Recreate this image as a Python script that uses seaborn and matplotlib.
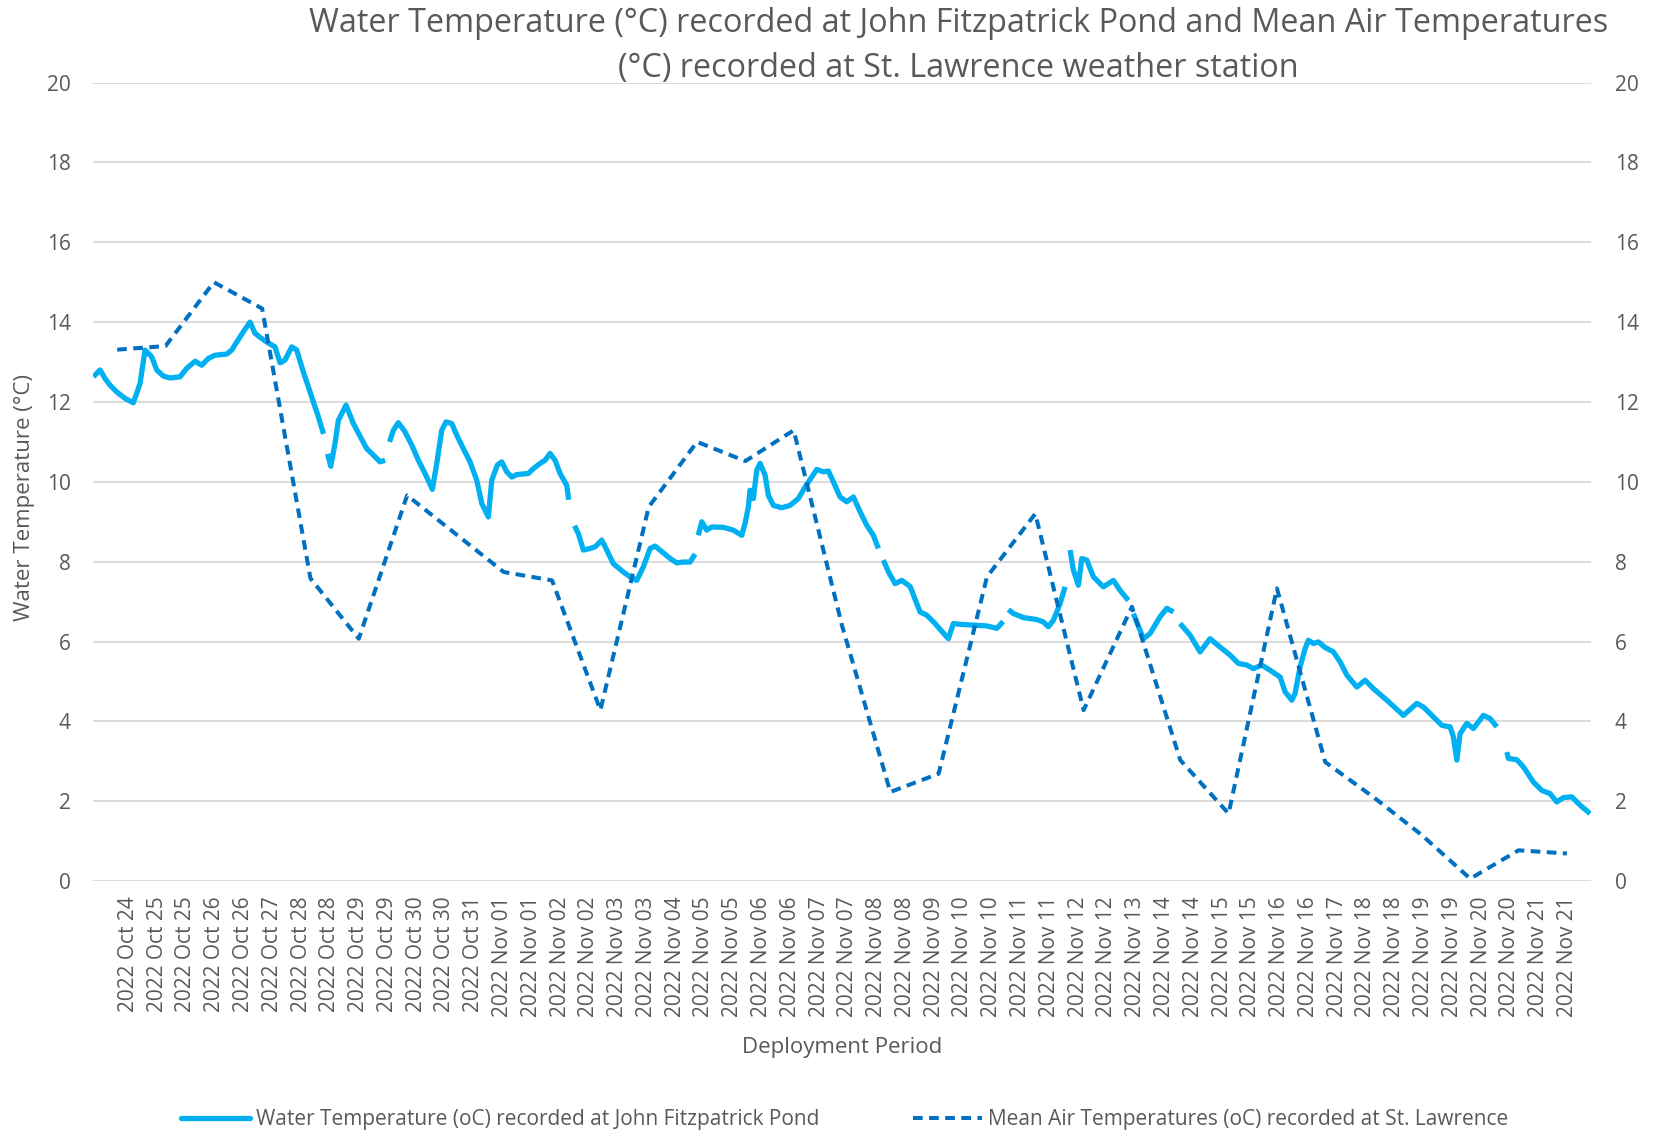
import numpy as np
import pandas as pd
import matplotlib
matplotlib.use("Agg")
import matplotlib.pyplot as plt
import seaborn as sns
from matplotlib.lines import Line2D

# x-axis labels (one per category tick)
tick_labels = (
    ["2022 Oct " + d for d in ["24", "25", "25", "26", "26", "27", "28", "28", "29", "29", "30", "30", "31"]]
    + ["2022 Nov " + d for d in ["01", "01", "02", "02", "03", "03", "04", "05", "05", "06", "06", "07", "07",
                                 "08", "08", "09", "10", "10", "11", "11", "12", "12", "13", "14", "14",
                                 "15", "15", "16", "16", "17", "18", "18", "19", "19", "20", "20", "21", "21"]]
)

# water temperature, x in tick units, NaN = logger gap
water_x = [
    -1.216, -0.983, -0.810, -0.636, -0.403, -0.115, 0.174, 0.407, 0.580, 0.813, 0.987, 1.216, 1.449,
    1.796, 2.029, 2.318, 2.550, 2.780, 3.012, 3.419, 3.593, 3.766, 3.996, 4.229, 4.402, 4.576, 4.809,
    5.097, 5.271, 5.445, 5.677, 5.851, 6.081, 6.254, 6.428, 6.602, 6.782, np.nan,
    6.921, 7.033, 7.182, 7.297, 7.564, 7.818, 8.051, 8.283, 8.513, 8.746, 8.919, np.nan,
    9.076, 9.208, 9.381, 9.614, 9.847, 10.076, 10.309, 10.563, 10.716, 10.889, 11.039, 11.237, 11.411,
    11.640, 11.873, 12.105, 12.279, 12.509, 12.627, 12.821, 12.974, 13.148, 13.322, 13.495, 13.898,
    14.072, 14.305, 14.479, 14.652, 14.826, 15.000, 15.233, 15.300, np.nan,
    15.504, 15.636, 15.810, 16.042, 16.216, 16.449, 16.622, 16.852, 17.199, 17.432, 17.665, 17.894,
    18.127, 18.301, 18.589, 18.822, 19.055, 19.284, 19.517, 19.691, np.nan,
    19.805, 19.923, 20.097, 20.271, 20.674, 21.021, 21.313, 21.428, 21.543, 21.601, 21.716, 21.834,
    21.949, 22.123, 22.238, 22.411, 22.703, 22.991, 23.280, 23.513, 23.745, 23.919, 24.148, 24.322,
    24.496, 24.728, 24.961, 25.191, 25.424, 25.656, 25.886, 26.060, np.nan,
    26.233, 26.407, 26.640, 26.872, 27.161, 27.508, 27.741, 28.030, 28.318, 28.492, 28.666, 28.899,
    29.361, 29.826, 30.174, 30.393, np.nan,
    30.577, 30.751, 31.098, 31.563, 31.793, 31.966, 32.140, 32.373, 32.547, np.nan,
    32.720, 32.835, 33.009, 33.127, 33.301, 33.530, 33.877, 34.225, 34.458, 34.746, np.nan,
    34.920, 35.267, 35.500, 35.847, 36.080, 36.310, np.nan,
    36.542, 36.890, 37.237, 37.585, 37.932, 38.280, 38.568, 38.860, 39.089, 39.381, 39.669, 40.017,
    40.191, 40.423, 40.538, 40.711, 40.885, 41.000, 41.174, 41.348, 41.580, 41.869, 42.102, 42.335,
    42.682, 42.971, 43.259, 43.725, 44.301, 44.767, 44.996, 45.344, 45.636, 45.924, 46.039, 46.157,
    46.271, 46.504, 46.734, 47.081, 47.314, 47.546, np.nan,
    47.894, 47.950, 48.242, 48.470, 48.818, 49.109, 49.397, 49.630, 49.860, 50.151, 50.442, 50.789,
]
water_t = [
    12.63, 12.80, 12.59, 12.42, 12.25, 12.09, 11.98, 12.46, 13.30, 13.13, 12.80, 12.65, 12.60,
    12.63, 12.84, 13.02, 12.92, 13.09, 13.17, 13.20, 13.30, 13.50, 13.76, 14.00, 13.72, 13.62, 13.50,
    13.38, 12.98, 13.05, 13.38, 13.30, 12.75, 12.38, 12.00, 11.63, 11.20, np.nan,
    10.70, 10.39, 10.96, 11.54, 11.92, 11.46, 11.14, 10.83, 10.67, 10.50, 10.54, np.nan,
    11.00, 11.29, 11.48, 11.25, 10.92, 10.54, 10.21, 9.81, 10.46, 11.29, 11.50, 11.46, 11.17,
    10.83, 10.50, 10.04, 9.46, 9.12, 10.04, 10.42, 10.50, 10.25, 10.12, 10.18, 10.21,
    10.33, 10.46, 10.54, 10.71, 10.54, 10.21, 9.91, 9.55, np.nan,
    8.90, 8.70, 8.29, 8.33, 8.37, 8.54, 8.29, 7.95, 7.74, 7.62, 7.53, 7.87,
    8.33, 8.39, 8.22, 8.08, 7.97, 7.99, 7.99, 8.19, np.nan,
    8.66, 9.00, 8.79, 8.87, 8.86, 8.79, 8.66, 8.96, 9.37, 9.79, 9.58, 10.29,
    10.46, 10.17, 9.66, 9.41, 9.35, 9.41, 9.58, 9.87, 10.12, 10.31, 10.25, 10.27,
    10.00, 9.62, 9.50, 9.62, 9.25, 8.91, 8.66, 8.33, np.nan,
    8.04, 7.75, 7.45, 7.53, 7.38, 6.74, 6.66, 6.45, 6.21, 6.07, 6.45, 6.43,
    6.41, 6.39, 6.33, 6.50, np.nan,
    6.80, 6.70, 6.60, 6.55, 6.49, 6.37, 6.53, 6.95, 7.37, np.nan,
    8.29, 7.79, 7.41, 8.08, 8.04, 7.62, 7.37, 7.53, 7.28, 7.03, np.nan,
    6.70, 6.07, 6.20, 6.62, 6.83, 6.74, np.nan,
    6.45, 6.16, 5.74, 6.07, 5.86, 5.66, 5.45, 5.41, 5.32, 5.41, 5.28, 5.11,
    4.74, 4.53, 4.70, 5.36, 5.82, 6.03, 5.95, 5.99, 5.85, 5.74, 5.49, 5.16,
    4.86, 5.03, 4.82, 4.53, 4.15, 4.45, 4.36, 4.11, 3.90, 3.86, 3.61, 3.03,
    3.69, 3.95, 3.82, 4.15, 4.07, 3.86, np.nan,
    3.23, 3.07, 3.04, 2.86, 2.48, 2.27, 2.19, 1.98, 2.09, 2.11, 1.90, 1.69,
]

# daily mean air temperature at St. Lawrence (day 0 = Oct 24)
air_day = list(range(31))
air_t = [13.31, 13.40, 15.00, 14.34, 7.58, 6.07, 9.66, 8.70, 7.74, 7.53, 4.28, 9.37, 11.00, 10.52,
         11.29, 6.40, 2.23, 2.69, 7.62, 9.20, 4.28, 6.87, 3.03, 1.69, 7.33, 2.98, 2.10, 1.15, 0.06,
         0.77, 0.69]

water_label = "Water Temperature (oC) recorded at John Fitzpatrick Pond"
air_label = "Mean Air Temperatures (oC) recorded at St. Lawrence"

sns.set_theme(style="white")
plt.rcParams['font.family'] = ['Open Sans', 'DejaVu Sans']

grey = '#595959'
water_col = '#00B0F0'
air_col = '#0070C0'
air_dash = (0, (2.4, 1.6))

# split the water series into continuous pieces
df = pd.DataFrame({'x': water_x, 't': water_t})
df['seg'] = df['t'].isna().cumsum()
df = df.dropna()

fig = plt.figure(figsize=(16.58, 11.31), dpi=100)
ax = fig.add_axes([0.0561, 0.221, 0.9035, 0.706])

sns.lineplot(data=df, x='x', y='t', units='seg', estimator=None, color=water_col,
             lw=3.8, solid_capstyle='butt', ax=ax)
ax.set_xlim(-1.227, 50.82)
ax.set_ylim(0, 20)
ax.set_yticks(range(0, 21, 2))
ax.set_xticks(range(len(tick_labels)))
ax.set_xticklabels(tick_labels, rotation=90, fontsize=15, color=grey)
ax.tick_params(axis='x', length=0, pad=11)
ax.tick_params(axis='y', length=0, pad=16, labelsize=15, labelcolor=grey)
ax.grid(axis='y', color='#D9D9D9', lw=1.3)
ax.set_axisbelow(True)
ax.set_xlabel('Deployment Period', fontsize=16, color=grey)
ax.set_ylabel('Water Temperature (°C)', fontsize=16, color=grey)
ax.xaxis.set_label_coords(0.5, -0.195)
ax.yaxis.set_label_coords(-0.039, 0.48)

# right axis with the same scale
axr = ax.twinx()
axr.set_ylim(0, 20)
axr.set_yticks(range(0, 21, 2))
axr.tick_params(axis='y', length=0, pad=17, labelsize=15, labelcolor=grey)

# air temperature on its own (hidden) daily axis
axa = axr.twiny()
sns.lineplot(x=air_day, y=air_t, color=air_col, lw=2.9, linestyle=air_dash, ax=axa)
axa.set_xlim(-0.5, 30.5)
axa.set_xticks([])
axa.set_xlabel('')

for a in (ax, axr, axa):
    for s in a.spines.values():
        s.set_visible(False)

fig.text(0.578, 1 - 23.5 / 1131, "Water Temperature (°C) recorded at John Fitzpatrick Pond and Mean Air Temperatures",
         ha='center', va='center', fontsize=23.3, color=grey)
fig.text(0.578, 1 - 68.5 / 1131, "(°C) recorded at St. Lawrence weather station",
         ha='center', va='center', fontsize=23.3, color=grey)

handles = [Line2D([], [], color=water_col, lw=3.8),
           Line2D([], [], color=air_col, lw=2.9, linestyle=air_dash)]
fig.legend(handles, [water_label, air_label], loc='center', bbox_to_anchor=(0.5095, 1 - 1120 / 1131),
           ncol=2, frameon=False, fontsize=15, handlelength=3.3, columnspacing=4.5,
           handletextpad=0.3, labelcolor=grey)

fig.savefig('out.png', dpi=100)
